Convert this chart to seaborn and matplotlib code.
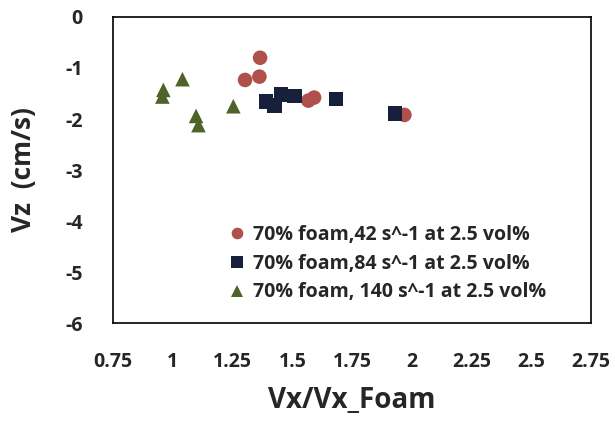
import matplotlib
matplotlib.use("Agg")
import matplotlib.pyplot as plt
import seaborn as sns
import pandas as pd

sns.set_style("white")
plt.rcParams["font.family"] = ["Open Sans", "DejaVu Sans"]
plt.rcParams["font.weight"] = "bold"
plt.rcParams["axes.unicode_minus"] = False

labels = [
    "70% foam,42 s^-1 at 2.5 vol%",
    "70% foam,84 s^-1 at 2.5 vol%",
    "70% foam, 140 s^-1 at 2.5 vol%",
]
colors = ["#B0504B", "#16203A", "#4F6228"]
markers = ["o", "s", "^"]

x_42 = [1.365, 1.362, 1.302, 1.567, 1.591, 1.969]
vz_42 = [-0.80, -1.17, -1.235, -1.64, -1.58, -1.92]
x_84 = [1.390, 1.425, 1.453, 1.509, 1.682, 1.930]
vz_84 = [-1.66, -1.73, -1.52, -1.55, -1.61, -1.89]
x_140 = [1.040, 0.960, 0.956, 1.097, 1.107, 1.253]
vz_140 = [-1.22, -1.43, -1.56, -1.94, -2.12, -1.75]

x_ticks = [0.75, 1, 1.25, 1.5, 1.75, 2, 2.25, 2.5, 2.75]
x_tick_labels = ["0.75", "1", "1.25", "1.5", "1.75", "2", "2.25", "2.5", "2.75"]
y_ticks = [0, -1, -2, -3, -4, -5, -6]

df = pd.concat([
    pd.DataFrame({"x": x_42, "vz": vz_42, "series": labels[0]}),
    pd.DataFrame({"x": x_84, "vz": vz_84, "series": labels[1]}),
    pd.DataFrame({"x": x_140, "vz": vz_140, "series": labels[2]}),
])

fig = plt.figure(figsize=(6.15, 4.23), dpi=100)
ax = fig.add_axes([0.184, 0.236, 0.777, 0.724])

sns.scatterplot(
    data=df, x="x", y="vz", hue="series", style="series",
    hue_order=labels, style_order=labels,
    palette=colors, markers=dict(zip(labels, markers)),
    s=110, linewidth=0, ax=ax,
)

ax.set_xlim(0.75, 2.75)
ax.set_ylim(-6, 0)
ax.set_xticks(x_ticks)
ax.set_xticklabels(x_tick_labels)
ax.set_yticks(y_ticks)
ax.tick_params(axis="x", direction="in", length=5, width=1, color="black",
               labelsize=14, pad=21)
ax.tick_params(axis="y", direction="in", length=5, width=1, color="black",
               labelsize=14, pad=22)
for lab in ax.get_xticklabels() + ax.get_yticklabels():
    lab.set_fontweight("bold")
for sp in ax.spines.values():
    sp.set_color("black")
    sp.set_linewidth(1.2)

ax.set_xlabel("Vx/Vx_Foam", fontsize=20, fontweight="bold", labelpad=10)
ax.set_ylabel("Vz  (cm/s)", fontsize=19, fontweight="bold", labelpad=20)

leg = ax.legend(loc="lower right", bbox_to_anchor=(0.93, 0.03), frameon=False,
                prop={"size": 14, "weight": "bold"}, handletextpad=-0.2,
                labelspacing=0.45, markerscale=0.8, borderaxespad=0.2)

fig.savefig("out.png", dpi=100)
